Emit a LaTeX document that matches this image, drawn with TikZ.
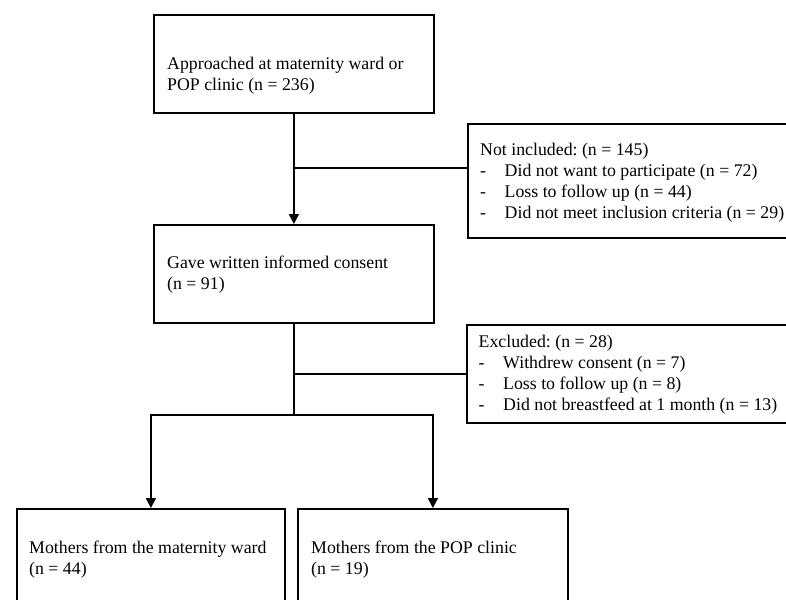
\documentclass[tikz,border=0pt]{standalone}
\usepackage{fontspec}
\setmainfont{Liberation Serif}
\usetikzlibrary{arrows.meta}
\frenchspacing

\tikzset{
  flowbox/.style={draw, line width=1.8pt, anchor=north west, inner sep=0pt},
  boxtext/.style={anchor=north west, align=left, inner sep=0pt, font=\fontsize{17.8}{21}\selectfont},
  flowline/.style={line width=1.8pt, line cap=rect},
  flowarrow/.style={line width=1.8pt, -{Triangle[width=10pt,length=10pt]}}
}
\newcommand{\dashitem}[1]{\makebox[24.5pt][l]{-}#1}

\begin{document}
\begin{tikzpicture}[x=1pt, y=-1pt]
  \useasboundingbox (0,0) rectangle (786,599);
  \clip (0,0) rectangle (786,599);
  % Main column boxes
  \node[flowbox, minimum width=280pt, minimum height=98pt] (approach) at (153,14) {};
  \node[flowbox, minimum width=280pt, minimum height=98pt] (consent) at (153,224) {};
  % Side boxes (run off the right edge)
  \node[flowbox, minimum width=340pt, minimum height=114pt] (notinc) at (467,123) {};
  \node[flowbox, minimum width=340pt, minimum height=98pt] (excl) at (466,324) {};
  % Bottom boxes (run off the lower edge)
  \node[flowbox, minimum width=268pt, minimum height=110pt] (ward) at (16,508) {};
  \node[flowbox, minimum width=270pt, minimum height=110pt] (popclinic) at (297,508) {};
  % Box texts
  \node[boxtext] (approachtxt) at (167,56.8) {Approached at maternity ward or\\POP clinic (n = 236)};
  \node[boxtext] (consenttxt) at (167,255.8) {Gave written informed consent\\(n = 91)};
  \node[boxtext] (notinctxt) at (480,142.6) {Not included: (n = 145)\\
    \dashitem{Did not want to participate (n = 72)}\\
    \dashitem{Loss to follow up (n = 44)}\\
    \dashitem{Did not meet inclusion criteria (n = 29)}};
  \node[boxtext] (excltxt) at (478.5,334.6) {Excluded: (n = 28)\\
    \dashitem{Withdrew consent (n = 7)}\\
    \dashitem{Loss to follow up (n = 8)}\\
    \dashitem{Did not breastfeed at 1 month (n = 13)}};
  \node[boxtext] (wardtxt) at (29,540.8) {Mothers from the maternity ward\\(n = 44)};
  \node[boxtext] (popclinictxt) at (311,540.8) {Mothers from the POP clinic\\(n = 19)};
  % Connectors
  \draw[flowarrow] (approach.south) -- (consent.north);
  \coordinate (nibranch) at (approach.south |- 0,168);
  \draw[flowline] (nibranch) -- (nibranch -| notinc.west);
  \coordinate (split) at (consent.south |- 0,415);
  \draw[flowline] (consent.south) -- (split);
  \draw[flowline] (consent.south |- excl.west) -- (excl.west);
  \draw[flowline] (ward.north |- split) -- (popclinic.north |- split);
  \foreach \b in {ward, popclinic} {
    \draw[flowarrow] (\b.north |- split) -- (\b.north);
  }
\end{tikzpicture}
\end{document}
